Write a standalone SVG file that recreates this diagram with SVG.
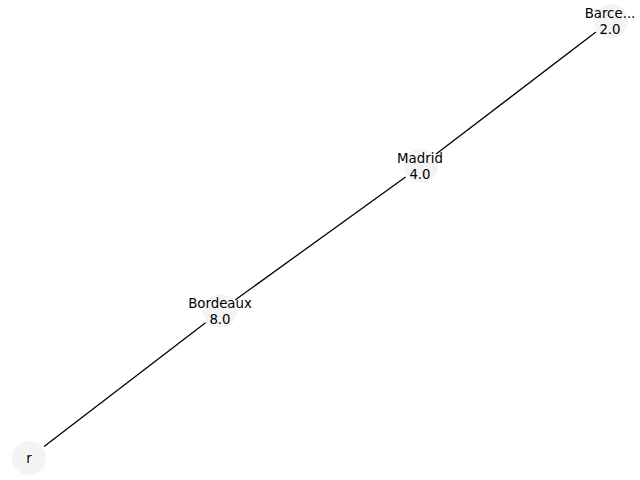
<svg xmlns="http://www.w3.org/2000/svg" width="640" height="480" viewBox="0 0 640 480">
<style>
.node{fill:#f4f4f4;stroke:none}
.lbl{font-family:"DejaVu Sans",sans-serif;font-size:13.33px;fill:#000;text-anchor:middle}
.edge{stroke:#000;stroke-width:1.3;fill:none}
</style>
<rect width="640" height="480" fill="#fff"/>
<g id="node-r"><circle class="node" cx="29" cy="458" r="17"/><text class="lbl" x="29" y="462.5">r</text></g>
<g id="node-bordeaux"><circle class="node" cx="220" cy="311" r="17"/><text class="lbl" x="220" y="308">Bordeaux</text><text class="lbl" x="220" y="324">8.0</text></g>
<g id="node-madrid"><circle class="node" cx="421" cy="166" r="17"/><text class="lbl" x="420" y="163">Madrid</text><text class="lbl" x="420" y="179">4.0</text></g>
<g id="node-barcelona"><circle class="node" cx="611" cy="21" r="17"/><text class="lbl" x="610" y="18">Barce...</text><text class="lbl" x="610" y="34">2.0</text></g>
<g id="connectors">
<line class="edge" x1="44.1" y1="446.4" x2="205.5" y2="322.8"/>
<line class="edge" x1="235.4" y1="299.8" x2="405.6" y2="177"/>
<line class="edge" x1="436.1" y1="154" x2="595.9" y2="32"/>
</g>
</svg>
